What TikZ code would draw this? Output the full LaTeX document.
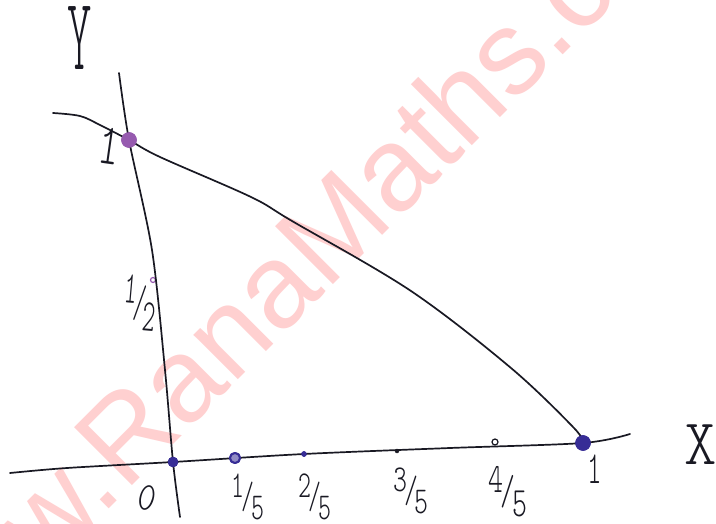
\documentclass[tikz,border=0pt]{standalone}
\usepackage{fontspec}
\newfontfamily\wmfont{Liberation Sans}
\newfontfamily\hand{lmmonolt10-regular.otf}
\definecolor{wmpink}{RGB}{255,208,208}
\definecolor{ink}{RGB}{25,25,35}
\definecolor{dotblue}{RGB}{55,45,150}
\definecolor{dotpurple}{RGB}{150,90,175}
\newcommand{\hfrac}[2]{\raisebox{0.28em}{#1}\kern-0.12em/\kern-0.12em\raisebox{-0.3em}{#2}}
\begin{document}
\begin{tikzpicture}[x=1pt,y=-1pt, line cap=round, line join=round,
  pen/.style={draw=ink, line width=1.7pt},
  fulldot/.style={circle, fill=#1, draw=#1, inner sep=0pt},
  ringdot/.style={circle, draw=#1, line width=1.2pt, inner sep=0pt},
  lbl/.style={text=ink, inner sep=0pt},
  fraclbl/.style={lbl, font=\hand\fontsize{38}{38}\selectfont},
  wmark/.style={text=wmpink, inner sep=0pt, font=\wmfont\fontsize{119}{119}\selectfont}
]
\useasboundingbox (0,0) rectangle (716,524);
\fill[white] (0,0) rectangle (716,524);

% watermark
\node[wmark, anchor=base, rotate=45] (wm) at (331,287) {www.RanaMaths.com};

% key points
\coordinate (yaxtop) at (119,73);
\coordinate (yaxbot) at (180,517);
\coordinate (xaxleft) at (10,473);
\coordinate (xaxright) at (630,434);
\coordinate (curvestart) at (53,113);

% dots (named nodes)
\node[fulldot=dotpurple, minimum size=15pt] (ytop) at (129,140) {};
\node[ringdot=dotpurple, minimum size=5pt] (half) at (153,280) {};
\node[fulldot=dotblue, minimum size=10pt] (o) at (173,462) {};
\node[circle, draw=dotblue, fill=dotblue!55, line width=2pt, inner sep=0pt, minimum size=10pt] (f1) at (235,458) {};
\node[fulldot=dotblue, minimum size=5pt] (f2) at (304,454) {};
\node[fulldot=ink, minimum size=4pt] (f3) at (397,451) {};
\node[ringdot=ink, minimum size=6pt] (f4) at (495,442) {};
\node[fulldot=dotblue, minimum size=15pt] (xone) at (583,443) {};

% axes
\draw[pen] plot[smooth, tension=0.5] coordinates {(yaxtop) (ytop.center) (152,250) (165,370) (o.center) (yaxbot)};
\draw[pen] plot[smooth, tension=0.5] coordinates {(xaxleft) (67,468) (o.center) (f2.center) (450,448) (xone.center) (xaxright)};

% curve
\draw[pen] plot[smooth, tension=0.55] coordinates {(curvestart) (80,116) (100,125) (ytop.center) (160,157) (251,197) (292,221) (411,291) (511,368) (574,428) (xone.center)};

% redraw dots on top
\node[fulldot=dotpurple, minimum size=15pt] at (ytop) {};
\node[fulldot=dotblue, minimum size=10pt] at (o) {};
\node[circle, draw=dotblue, fill=dotblue!55, line width=2pt, inner sep=0pt, minimum size=10pt] at (f1) {};
\node[fulldot=dotblue, minimum size=5pt] at (f2) {};
\node[fulldot=dotblue, minimum size=15pt] at (xone) {};

% labels
\node[lbl, font=\hand\fontsize{103}{103}\selectfont] (ylab) at (80,38) {\scalebox{0.45}[1]{Y}};
\node[lbl, font=\hand\fontsize{65}{65}\selectfont] (xlab) at (701,445) {\scalebox{0.95}[1]{X}};
\node[lbl, font=\hand\fontsize{58}{58}\selectfont, rotate=-8] (onelabY) at (110,146) {\scalebox{0.7}[1]{1}};
\node[fraclbl, rotate=-5] (halflab) at (140,303) {\scalebox{0.65}[1.2]{\hfrac{1}{2}}};
\node[lbl, font=\hand\fontsize{40}{40}\selectfont, rotate=-15] (zerolab) at (147,498) {\scalebox{0.85}[1]{0}};
\node[fraclbl] (f1lab) at (248,497) {\scalebox{0.65}[1]{\hfrac{1}{5}}};
\node[fraclbl] (f2lab) at (315,497) {\scalebox{0.65}[1]{\hfrac{2}{5}}};
\node[fraclbl] (f3lab) at (411,491) {\scalebox{0.7}[1]{\hfrac{3}{5}}};
\node[fraclbl] (f4lab) at (508,492) {\scalebox{0.75}[1.1]{\hfrac{4}{5}}};
\node[lbl, font=\hand\fontsize{46}{46}\selectfont] (onelabX) at (595,469) {\scalebox{0.6}[1]{1}};
\end{tikzpicture}
\end{document}
